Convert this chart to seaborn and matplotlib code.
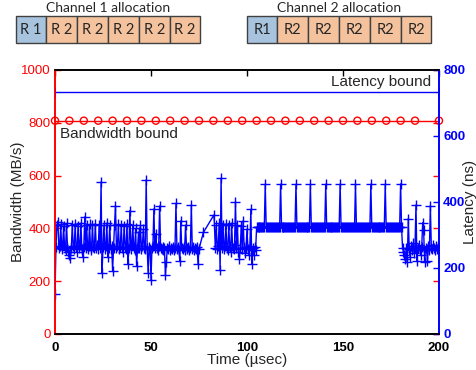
import numpy as np
import pandas as pd
import matplotlib
matplotlib.use("Agg")
import matplotlib.pyplot as plt
from matplotlib.patches import Rectangle
import seaborn as sns

# ---------------- data ----------------
# Segment A: 0 .. 75 us, sampled every 0.5 us (latency, ns)
seg_a_start, seg_a_step = 0.0, 0.5
seg_a = [121, 265, 330, 340, 262, 268, 332, 258, 270, 328, 262, 255, 335, 265, 248, 238,
         230, 262, 330, 268, 258, 334, 264, 250, 328, 262, 270, 336, 258, 232, 265, 355,
         262, 330, 258, 268, 332, 262, 255, 330, 265, 260, 334, 262, 270, 258, 330, 262,
         461, 186, 264, 330, 258, 266, 336, 233, 262, 330, 258, 268, 192, 262, 330, 389,
         260, 266, 332, 258, 264, 330, 262, 250, 328, 265, 258, 334, 212, 262, 374, 258,
         270, 330, 262, 255, 320, 206, 262, 309, 262, 330, 258, 266, 318, 262, 258, 467,
         262, 186, 264, 258, 164, 262, 268, 379, 260, 304, 262, 255, 266, 388, 262, 258,
         264, 256, 262, 178, 217, 262, 258, 266, 256, 262, 258, 264, 256, 262, 396, 258,
         264, 256, 222, 343, 262, 258, 264, 256, 330, 262, 258, 264, 256, 262, 391, 258,
         264, 256, 262, 258, 264, 212, 258]
# Segment B: sparse samples in the gap
seg_b_time = [77.3, 82.8]
seg_b = [308, 361]
# Segment C: 83.5 .. 104.5 us
seg_c_start, seg_c_step = 83.5, 0.5
seg_c = [262, 330, 258, 266, 335, 194, 472, 262, 330, 258, 268, 334, 262, 256, 330, 264,
         250, 336, 262, 258, 270, 401, 262, 330, 248, 227, 262, 328, 258, 343, 265, 245,
         262, 318, 258, 240, 266, 378, 212, 262, 238, 264, 256]
# Segment D: plateau 105 .. 180.5 us with periodic spikes
seg_d_start, seg_d_step = 105.0, 0.5
seg_d = ([323] * 9 + [454] + [323] * 15 + [454] + [323] * 15 + [454] + [323] * 14 + [454]
         + [323] * 15 + [454] + [323] * 14 + [454] + [323] * 15 + [454] + [323] * 15 + [454]
         + [323] * 14 + [454] + [323] * 15 + [455] + [323])
# Segment E: 181 .. 200 us
seg_e_start, seg_e_step = 181.0, 0.5
seg_e = [262, 250, 238, 227, 262, 217, 350, 258, 232, 266, 256, 275, 245, 262, 391, 222,
         262, 270, 256, 240, 264, 337, 315, 217, 262, 258, 221, 266, 256, 388, 262, 258,
         270, 262, 255, 266, 258, 264, 260]

latency_bound_ns = 733
bandwidth_bound = 808          # MB/s
bw_marker_time = list(np.arange(0, 190, 7.5)) + [200]

ch1_labels = ["R 1", "R 2", "R 2", "R 2", "R 2", "R 2"]
ch2_labels = ["R1", "R2", "R2", "R2", "R2", "R2"]

# ---------------- build table ----------------
def seg_times(start, step, vals):
    return [start + step * i for i in range(len(vals))]

times = (seg_times(seg_a_start, seg_a_step, seg_a) + seg_b_time
         + seg_times(seg_c_start, seg_c_step, seg_c)
         + seg_times(seg_d_start, seg_d_step, seg_d)
         + seg_times(seg_e_start, seg_e_step, seg_e))
lat = seg_a + seg_b + seg_c + seg_d + seg_e
df = pd.DataFrame({"t": times, "lat": lat})

# ---------------- style ----------------
sns.set_style("white")
plt.rcParams["font.family"] = ["Liberation Sans", "DejaVu Sans"]

W, H = 477, 370
fig = plt.figure(figsize=(W / 100, H / 100), dpi=100)

x0, x1, y0, y1 = 55, 439, 70, 334
ax = fig.add_axes([x0 / W, 1 - y1 / H, (x1 - x0) / W, (y1 - y0) / H])
ax2 = ax.twinx()

RED = "#ff0000"
BLUE = "#0000ff"

# bandwidth bound on left axis
sns.lineplot(x=[0, 200], y=[bandwidth_bound, bandwidth_bound], ax=ax, color=RED,
             linewidth=1.0, legend=False)
sns.scatterplot(x=bw_marker_time, y=[bandwidth_bound] * len(bw_marker_time), ax=ax,
                marker="o", s=26, facecolor="none", edgecolor=RED, linewidth=1.0,
                legend=False, clip_on=False)

# latency data on right axis
sns.lineplot(data=df, x="t", y="lat", ax=ax2, color=BLUE, linewidth=1.0, marker="+",
             markersize=7, markeredgewidth=1.0, markeredgecolor=BLUE, estimator=None,
             sort=False, legend=False)
sns.lineplot(x=[0, 200], y=[latency_bound_ns, latency_bound_ns], ax=ax2, color=BLUE,
             linewidth=1.0, marker="+", markersize=7, markeredgecolor=BLUE, legend=False)

ax.set_xlim(0, 200)
ax.set_ylim(0, 1000)
ax2.set_ylim(0, 800)
ax.set_xticks([0, 50, 100, 150, 200])
ax.set_yticks([0, 200, 400, 600, 800, 1000])
ax2.set_yticks([0, 200, 400, 600, 800])

ax.tick_params(axis="x", direction="in", length=4, width=1, colors="black", top=True,
               labelsize=9.5, pad=5.5)
for lab in ax.get_xticklabels():
    lab.set_fontweight("bold")
ax.tick_params(axis="y", direction="in", length=4, width=1, colors=RED, right=True,
               labelsize=9.5, pad=3)
ax2.tick_params(axis="y", direction="in", length=4, width=1, colors=BLUE, left=False,
                labelsize=9.5, pad=3)
for lab in ax2.get_yticklabels():
    lab.set_fontweight("bold")

for a in (ax, ax2):
    a.spines["left"].set_color(RED)
    a.spines["right"].set_color(BLUE)
    a.spines["top"].set_color("black")
    a.spines["bottom"].set_color("black")
    for s in a.spines.values():
        s.set_linewidth(1.2)
        s.set_visible(True)
ax.grid(False)
ax2.grid(False)

ax.set_xlabel("Time (\u00b5sec)", fontsize=11)
ax.set_ylabel("Bandwidth (MB/s)", fontsize=11)
ax2.set_ylabel("Latency (ns)", fontsize=11)
ax.xaxis.set_label_coords(0.5, -0.072)
ax.yaxis.set_label_coords(-0.078, 0.5)
ax2.yaxis.set_label_coords(1.063, 0.5)

ax.text(196, 955, "Latency bound", fontsize=11, ha="right", va="center")
ax.text(2.6, 758, "Bandwidth bound", fontsize=11, ha="left", va="center")

# ---------------- allocation diagram ----------------
top = fig.add_axes([0, 0, 1, 1], zorder=-1)
top.set_xlim(0, W)
top.set_ylim(H, 0)
top.axis("off")
C_BLUE = "#a7c3dd"
C_ORANGE = "#f4c29d"
cell_w, cell_y, cell_h = 30.8, 15.7, 27.6
for start_x, labels, title in ((15.7, ch1_labels, "Channel 1 allocation"),
                               (246.7, ch2_labels, "Channel 2 allocation")):
    for i, lab in enumerate(labels):
        fc = C_BLUE if i == 0 else C_ORANGE
        top.add_patch(Rectangle((start_x + i * cell_w, cell_y), cell_w, cell_h,
                                facecolor=fc, edgecolor="#404040", linewidth=1.0))
        top.text(start_x + (i + 0.5) * cell_w, cell_y + cell_h / 2 + 0.5, lab,
                 ha="center", va="center", fontsize=10.5, family=["Lato", "DejaVu Sans"])
    top.text(start_x + 3 * cell_w, 8, title, ha="center", va="center", fontsize=10,
             family=["Lato", "DejaVu Sans"])

fig.savefig("out.png", dpi=100)
